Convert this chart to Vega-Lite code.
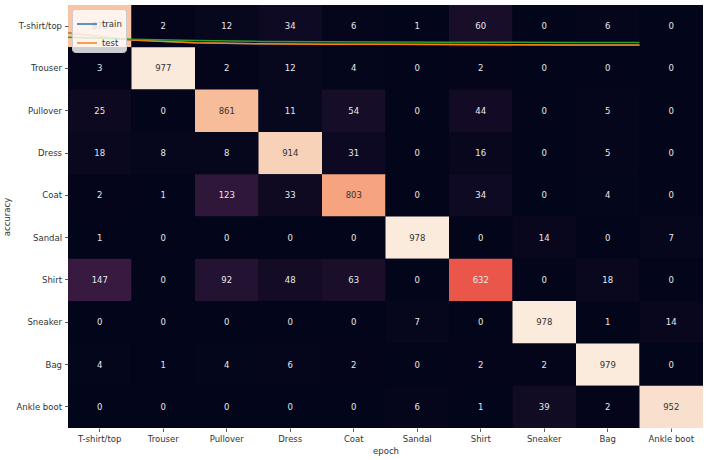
{
  "$schema": "https://vega.github.io/schema/vega-lite/v6.json",
  "width": 635,
  "height": 423,
  "autosize": "none",
  "padding": {"left": 68, "top": 5, "right": 5, "bottom": 32},
  "background": "white",
  "config": {
    "view": {"stroke": null, "fill": "#03051a"},
    "font": "DejaVu Sans",
    "axis": {
      "labelFont": "DejaVu Sans", "labelFontSize": 8.5, "labelColor": "#333333",
      "tickColor": "#333333", "tickSize": 3.5, "tickWidth": 0.8, "domain": false, "grid": false,
      "titleFont": "DejaVu Sans", "titleFontSize": 8.5, "titleFontWeight": "normal", "titleColor": "#333333",
      "labelPadding": 3
    }
  },
  "datasets": {
    "cm": [
      {"actual": "T-shirt/top", "pred": "T-shirt/top", "n": 879}, {"actual": "T-shirt/top", "pred": "Trouser", "n": 2}, {"actual": "T-shirt/top", "pred": "Pullover", "n": 12}, {"actual": "T-shirt/top", "pred": "Dress", "n": 34}, {"actual": "T-shirt/top", "pred": "Coat", "n": 6}, {"actual": "T-shirt/top", "pred": "Sandal", "n": 1}, {"actual": "T-shirt/top", "pred": "Shirt", "n": 60}, {"actual": "T-shirt/top", "pred": "Sneaker", "n": 0}, {"actual": "T-shirt/top", "pred": "Bag", "n": 6}, {"actual": "T-shirt/top", "pred": "Ankle boot", "n": 0},
      {"actual": "Trouser", "pred": "T-shirt/top", "n": 3}, {"actual": "Trouser", "pred": "Trouser", "n": 977}, {"actual": "Trouser", "pred": "Pullover", "n": 2}, {"actual": "Trouser", "pred": "Dress", "n": 12}, {"actual": "Trouser", "pred": "Coat", "n": 4}, {"actual": "Trouser", "pred": "Sandal", "n": 0}, {"actual": "Trouser", "pred": "Shirt", "n": 2}, {"actual": "Trouser", "pred": "Sneaker", "n": 0}, {"actual": "Trouser", "pred": "Bag", "n": 0}, {"actual": "Trouser", "pred": "Ankle boot", "n": 0},
      {"actual": "Pullover", "pred": "T-shirt/top", "n": 25}, {"actual": "Pullover", "pred": "Trouser", "n": 0}, {"actual": "Pullover", "pred": "Pullover", "n": 861}, {"actual": "Pullover", "pred": "Dress", "n": 11}, {"actual": "Pullover", "pred": "Coat", "n": 54}, {"actual": "Pullover", "pred": "Sandal", "n": 0}, {"actual": "Pullover", "pred": "Shirt", "n": 44}, {"actual": "Pullover", "pred": "Sneaker", "n": 0}, {"actual": "Pullover", "pred": "Bag", "n": 5}, {"actual": "Pullover", "pred": "Ankle boot", "n": 0},
      {"actual": "Dress", "pred": "T-shirt/top", "n": 18}, {"actual": "Dress", "pred": "Trouser", "n": 8}, {"actual": "Dress", "pred": "Pullover", "n": 8}, {"actual": "Dress", "pred": "Dress", "n": 914}, {"actual": "Dress", "pred": "Coat", "n": 31}, {"actual": "Dress", "pred": "Sandal", "n": 0}, {"actual": "Dress", "pred": "Shirt", "n": 16}, {"actual": "Dress", "pred": "Sneaker", "n": 0}, {"actual": "Dress", "pred": "Bag", "n": 5}, {"actual": "Dress", "pred": "Ankle boot", "n": 0},
      {"actual": "Coat", "pred": "T-shirt/top", "n": 2}, {"actual": "Coat", "pred": "Trouser", "n": 1}, {"actual": "Coat", "pred": "Pullover", "n": 123}, {"actual": "Coat", "pred": "Dress", "n": 33}, {"actual": "Coat", "pred": "Coat", "n": 803}, {"actual": "Coat", "pred": "Sandal", "n": 0}, {"actual": "Coat", "pred": "Shirt", "n": 34}, {"actual": "Coat", "pred": "Sneaker", "n": 0}, {"actual": "Coat", "pred": "Bag", "n": 4}, {"actual": "Coat", "pred": "Ankle boot", "n": 0},
      {"actual": "Sandal", "pred": "T-shirt/top", "n": 1}, {"actual": "Sandal", "pred": "Trouser", "n": 0}, {"actual": "Sandal", "pred": "Pullover", "n": 0}, {"actual": "Sandal", "pred": "Dress", "n": 0}, {"actual": "Sandal", "pred": "Coat", "n": 0}, {"actual": "Sandal", "pred": "Sandal", "n": 978}, {"actual": "Sandal", "pred": "Shirt", "n": 0}, {"actual": "Sandal", "pred": "Sneaker", "n": 14}, {"actual": "Sandal", "pred": "Bag", "n": 0}, {"actual": "Sandal", "pred": "Ankle boot", "n": 7},
      {"actual": "Shirt", "pred": "T-shirt/top", "n": 147}, {"actual": "Shirt", "pred": "Trouser", "n": 0}, {"actual": "Shirt", "pred": "Pullover", "n": 92}, {"actual": "Shirt", "pred": "Dress", "n": 48}, {"actual": "Shirt", "pred": "Coat", "n": 63}, {"actual": "Shirt", "pred": "Sandal", "n": 0}, {"actual": "Shirt", "pred": "Shirt", "n": 632}, {"actual": "Shirt", "pred": "Sneaker", "n": 0}, {"actual": "Shirt", "pred": "Bag", "n": 18}, {"actual": "Shirt", "pred": "Ankle boot", "n": 0},
      {"actual": "Sneaker", "pred": "T-shirt/top", "n": 0}, {"actual": "Sneaker", "pred": "Trouser", "n": 0}, {"actual": "Sneaker", "pred": "Pullover", "n": 0}, {"actual": "Sneaker", "pred": "Dress", "n": 0}, {"actual": "Sneaker", "pred": "Coat", "n": 0}, {"actual": "Sneaker", "pred": "Sandal", "n": 7}, {"actual": "Sneaker", "pred": "Shirt", "n": 0}, {"actual": "Sneaker", "pred": "Sneaker", "n": 978}, {"actual": "Sneaker", "pred": "Bag", "n": 1}, {"actual": "Sneaker", "pred": "Ankle boot", "n": 14},
      {"actual": "Bag", "pred": "T-shirt/top", "n": 4}, {"actual": "Bag", "pred": "Trouser", "n": 1}, {"actual": "Bag", "pred": "Pullover", "n": 4}, {"actual": "Bag", "pred": "Dress", "n": 6}, {"actual": "Bag", "pred": "Coat", "n": 2}, {"actual": "Bag", "pred": "Sandal", "n": 0}, {"actual": "Bag", "pred": "Shirt", "n": 2}, {"actual": "Bag", "pred": "Sneaker", "n": 2}, {"actual": "Bag", "pred": "Bag", "n": 979}, {"actual": "Bag", "pred": "Ankle boot", "n": 0},
      {"actual": "Ankle boot", "pred": "T-shirt/top", "n": 0}, {"actual": "Ankle boot", "pred": "Trouser", "n": 0}, {"actual": "Ankle boot", "pred": "Pullover", "n": 0}, {"actual": "Ankle boot", "pred": "Dress", "n": 0}, {"actual": "Ankle boot", "pred": "Coat", "n": 0}, {"actual": "Ankle boot", "pred": "Sandal", "n": 6}, {"actual": "Ankle boot", "pred": "Shirt", "n": 1}, {"actual": "Ankle boot", "pred": "Sneaker", "n": 39}, {"actual": "Ankle boot", "pred": "Bag", "n": 2}, {"actual": "Ankle boot", "pred": "Ankle boot", "n": 952}
    ],
    "hist": [
      {"series": "train", "epoch": 0, "acc": 0.66}, {"series": "train", "epoch": 1, "acc": 0.83}, {"series": "train", "epoch": 2, "acc": 0.89}, {"series": "train", "epoch": 3, "acc": 0.915}, {"series": "train", "epoch": 4, "acc": 0.925}, {"series": "train", "epoch": 5, "acc": 0.93}, {"series": "train", "epoch": 6, "acc": 0.935}, {"series": "train", "epoch": 7, "acc": 0.94}, {"series": "train", "epoch": 8, "acc": 0.945}, {"series": "train", "epoch": 9, "acc": 0.945},
      {"series": "test", "epoch": 0, "acc": 0.66}, {"series": "test", "epoch": 1, "acc": 0.83}, {"series": "test", "epoch": 2, "acc": 0.89}, {"series": "test", "epoch": 3, "acc": 0.915}, {"series": "test", "epoch": 4, "acc": 0.925}, {"series": "test", "epoch": 5, "acc": 0.93}, {"series": "test", "epoch": 6, "acc": 0.935}, {"series": "test", "epoch": 7, "acc": 0.94}, {"series": "test", "epoch": 8, "acc": 0.945}, {"series": "test", "epoch": 9, "acc": 0.945},
      {"series": "val", "epoch": 0, "acc": 0.76}, {"series": "val", "epoch": 1, "acc": 0.81}, {"series": "val", "epoch": 2, "acc": 0.84}, {"series": "val", "epoch": 3, "acc": 0.86}, {"series": "val", "epoch": 4, "acc": 0.87}, {"series": "val", "epoch": 5, "acc": 0.875}, {"series": "val", "epoch": 6, "acc": 0.88}, {"series": "val", "epoch": 7, "acc": 0.88}, {"series": "val", "epoch": 8, "acc": 0.885}, {"series": "val", "epoch": 9, "acc": 0.885}
    ]
  },
  "layer": [
    {
      "data": {"name": "cm"},
      "layer": [
        {
          "mark": {"type": "rect"},
          "encoding": {
            "color": {
              "field": "n", "type": "quantitative", "legend": null,
              "scale": {
                "domain": [0, 139.9, 279.7, 419.6, 559.4, 699.3, 839.1, 979],
                "range": ["#03051a", "#35193e", "#701f57", "#ad1759", "#e13342", "#f37651", "#f6b48f", "#faebdd"],
                "interpolate": "rgb"
              }
            }
          }
        },
        {
          "mark": {"type": "text", "font": "DejaVu Sans", "fontSize": 8.5},
          "encoding": {
            "text": {"field": "n", "type": "quantitative"},
            "color": {"condition": {"test": "datum.n > 700", "value": "#333333"}, "value": "#e8e8e8"}
          }
        }
      ],
      "encoding": {
        "x": {
          "field": "pred", "type": "nominal", "title": "epoch",
          "sort": ["T-shirt/top", "Trouser", "Pullover", "Dress", "Coat", "Sandal", "Shirt", "Sneaker", "Bag", "Ankle boot"],
          "scale": {"paddingInner": 0, "paddingOuter": 0},
          "axis": {"labelAngle": 0, "titlePadding": 3}
        },
        "y": {
          "field": "actual", "type": "nominal", "title": "accuracy",
          "sort": ["T-shirt/top", "Trouser", "Pullover", "Dress", "Coat", "Sandal", "Shirt", "Sneaker", "Bag", "Ankle boot"],
          "scale": {"paddingInner": 0, "paddingOuter": 0},
          "axis": {"titlePadding": 4}
        }
      }
    },
    {
      "data": {"name": "hist"},
      "encoding": {
        "x": {"field": "epoch", "type": "quantitative", "scale": {"domain": [0, 10], "nice": false, "zero": false}, "axis": null},
        "y": {"field": "acc", "type": "quantitative", "scale": {"domain": [0, 10], "nice": false, "reverse": true}, "axis": null},
        "color": {
          "field": "series", "type": "nominal",
          "scale": {"domain": ["train", "test", "val"], "range": ["#1f77b4", "#ff7f0e", "#2ca02c"]},
          "legend": {
            "values": ["train", "test"], "title": null, "orient": "top-left", "offset": 4,
            "padding": 4, "fillColor": "rgba(255,255,255,0.8)", "strokeColor": "#cccccc", "cornerRadius": 3,
            "symbolType": "stroke", "symbolSize": 400, "symbolStrokeWidth": 1.5,
            "labelFont": "DejaVu Sans", "labelFontSize": 8.5, "labelColor": "#333333", "rowPadding": 3
          }
        }
      },
      "layer": [
        {"transform": [{"filter": "datum.series == 'train'"}], "mark": {"type": "line", "strokeWidth": 1.5}},
        {"transform": [{"filter": "datum.series == 'test'"}], "mark": {"type": "line", "strokeWidth": 1.5}},
        {"transform": [{"filter": "datum.series == 'val'"}], "mark": {"type": "line", "strokeWidth": 1.5}}
      ]
    }
  ],
  "resolve": {"scale": {"x": "independent", "y": "independent", "color": "independent"}}
}
